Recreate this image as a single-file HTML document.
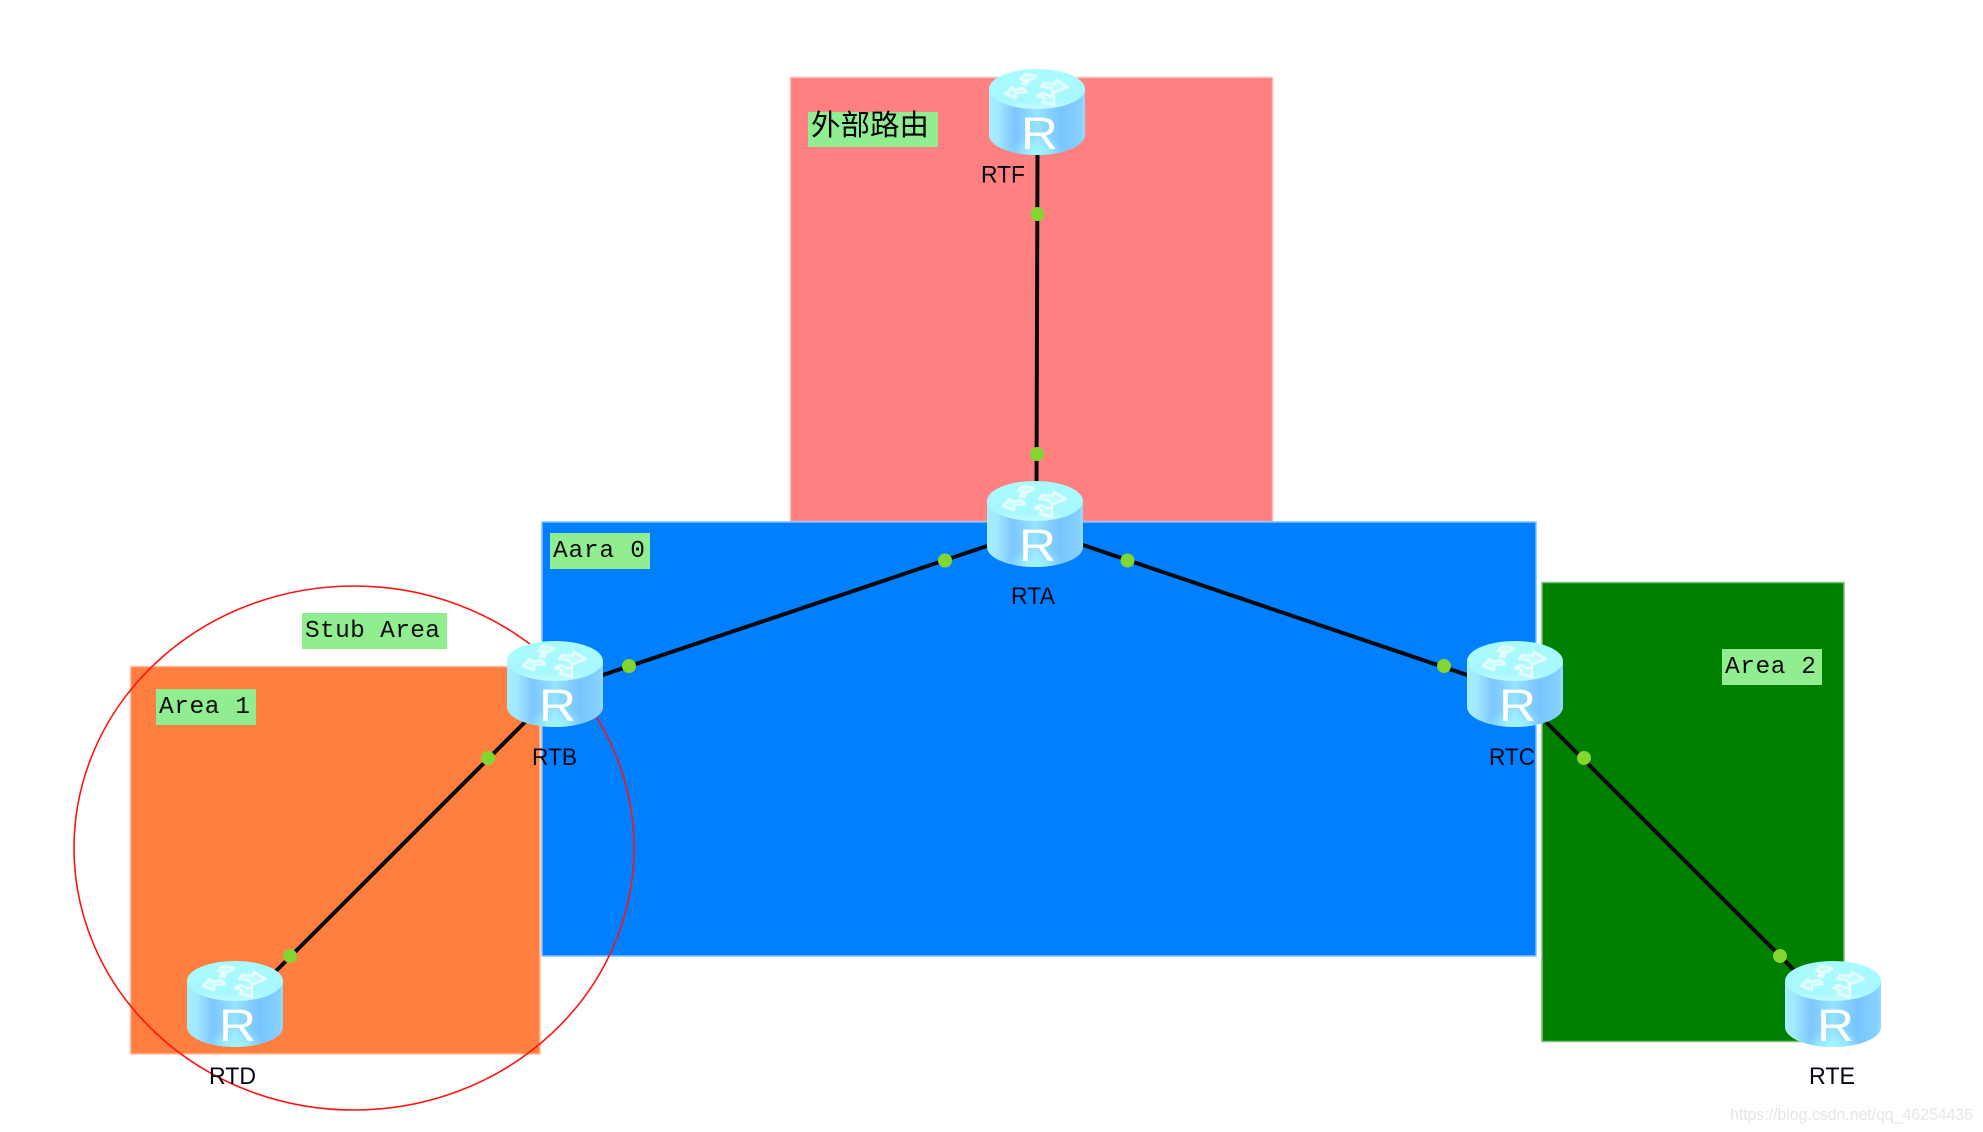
<!DOCTYPE html>
<html>
<head>
<meta charset="utf-8">
<title>OSPF Stub Area</title>
<style>
html,body{margin:0;padding:0;background:#fff;width:1983px;height:1132px;overflow:hidden}
svg{display:block}
.lb{font-family:"Liberation Mono",monospace;font-size:24.5px;fill:#0a0a0a}
.n{font-family:"Liberation Sans",sans-serif;font-size:24px;fill:#050514}
.r{font-family:"Liberation Sans",sans-serif;font-size:45px;fill:#fff}
</style>
</head>
<body>
<svg width="1983" height="1132" viewBox="0 0 1983 1132" xmlns="http://www.w3.org/2000/svg">
<defs>
<linearGradient id="b" x1="0" x2="1" y1="0" y2="0">
<stop offset="0" stop-color="#a6efff"/>
<stop offset=".1" stop-color="#a0e8ff"/>
<stop offset=".27" stop-color="#7cc6ff"/>
<stop offset=".5" stop-color="#96e2ff"/>
<stop offset=".75" stop-color="#78c4ff"/>
<stop offset=".95" stop-color="#86d0ff"/>
<stop offset="1" stop-color="#94dcff"/>
</linearGradient>
<linearGradient id="t" x1="0" x2="0" y1="0" y2="1">
<stop offset="0" stop-color="#a8fbff"/>
<stop offset=".8" stop-color="#a8f8ff"/>
<stop offset="1" stop-color="#c4fbff"/>
</linearGradient>
<radialGradient id="g" cx=".5" cy="1" r=".3">
<stop offset="0" stop-color="#a4f8ff"/>
<stop offset="1" stop-color="#a4f8ff" stop-opacity="0"/>
</radialGradient>
<filter id="soft" x="-5%" y="-5%" width="110%" height="110%"><feGaussianBlur stdDeviation=".45"/></filter>
<g id="router">
<path d="M0 20 V66 A48 20 0 0 0 96 66 V20 Z" fill="url(#b)"/>
<path d="M0 20 V66 A48 20 0 0 0 96 66 V20 Z" fill="url(#g)"/>
<ellipse cx="48" cy="20" rx="48" ry="20" fill="url(#t)"/>
<g fill="#d8fdff" fill-opacity=".45" stroke="#eefeff" stroke-width="2.2" stroke-linejoin="round" filter="url(#soft)">
<path d="M33 15 L37 11 L31 10 L36 5 L47 7 L44 10 L39 11 L38 16 Z"/>
<path d="M16 25 L23 18 L25 21 L34 19 L38 23 L27 24 L27 29 Z"/>
<path d="M79 18 L67 11 L66 15 L55 14 L52 18 L62 19 L64 24 Z"/>
<path d="M65 36 L53 33 L55 29 L48 27 L53 24 L61 27 L65 26 Z"/>
</g>
<text class="r" x="32" y="80" textLength="37" lengthAdjust="spacingAndGlyphs">R</text>
</g>
</defs>

<rect width="1983" height="1132" fill="#fff"/>

<!-- areas -->
<rect x="790.5" y="77.5" width="482" height="444" fill="#ff8080" stroke="#ffb8b8" stroke-width="1.5"/>
<rect x="130.5" y="666.5" width="409.5" height="387.5" fill="#ff7f40" stroke="#ffc0a0" stroke-width="1.5"/>
<rect x="542" y="522" width="994" height="434" fill="#0080ff" stroke="#80c0ff" stroke-width="1.5"/>
<rect x="1542" y="582.5" width="302" height="459" fill="#008000" stroke="#80c080" stroke-width="1.5"/>

<!-- circle -->
<ellipse cx="354" cy="848" rx="280" ry="262" fill="none" stroke="#ff1414" stroke-width="1.6"/>

<!-- connectors -->
<g stroke="#0a0a0a" stroke-width="4" fill="none">
<line x1="1037.5" y1="150" x2="1036.5" y2="490"/>
<line x1="600" y1="676" x2="990" y2="545"/>
<line x1="1080" y1="544" x2="1470" y2="676"/>
<line x1="528" y1="719" x2="274" y2="973"/>
<line x1="1543" y1="719" x2="1796" y2="972"/>
</g>
<g fill="#82d62f">
<circle cx="1037.5" cy="214" r="7"/>
<circle cx="1037" cy="454" r="7"/>
<circle cx="945" cy="560.5" r="7"/>
<circle cx="629" cy="666" r="7"/>
<circle cx="1127.5" cy="560.5" r="7"/>
<circle cx="1444" cy="666" r="7"/>
<circle cx="488" cy="758" r="7"/>
<circle cx="290" cy="956" r="7"/>
<circle cx="1584" cy="758" r="7"/>
<circle cx="1780" cy="956" r="7"/>
</g>

<!-- routers -->
<use href="#router" x="989" y="69"/>
<use href="#router" x="987" y="481"/>
<use href="#router" x="507" y="641"/>
<use href="#router" x="1467" y="641"/>
<use href="#router" x="187" y="961"/>
<use href="#router" x="1785" y="961"/>

<!-- router names -->
<text class="n" x="981" y="182.5" textLength="44" lengthAdjust="spacingAndGlyphs">RTF</text>
<text class="n" x="1011" y="604" textLength="44" lengthAdjust="spacingAndGlyphs">RTA</text>
<text class="n" x="532" y="765" textLength="45" lengthAdjust="spacingAndGlyphs">RTB</text>
<text class="n" x="1489" y="765" textLength="46" lengthAdjust="spacingAndGlyphs">RTC</text>
<text class="n" x="209" y="1084" textLength="47" lengthAdjust="spacingAndGlyphs">RTD</text>
<text class="n" x="1809" y="1084" textLength="46" lengthAdjust="spacingAndGlyphs">RTE</text>

<!-- label boxes -->
<rect x="808" y="112" width="130" height="35" fill="#90ee90"/>
<text x="811" y="135" textLength="118" lengthAdjust="spacingAndGlyphs" style="font-family:'Liberation Sans','Noto Sans CJK SC',sans-serif;font-size:29px;fill:#000">外部路由</text>

<rect x="550" y="533" width="100" height="36" fill="#90ee90"/>
<text class="lb" x="553" y="557" textLength="92" lengthAdjust="spacing">Aara 0</text>

<rect x="302" y="613" width="145" height="36" fill="#90ee90"/>
<text class="lb" x="305" y="637" textLength="135" lengthAdjust="spacing">Stub Area</text>

<rect x="156" y="689" width="100" height="36" fill="#90ee90"/>
<text class="lb" x="159" y="713" textLength="91" lengthAdjust="spacing">Area 1</text>

<rect x="1722" y="649" width="100" height="36" fill="#90ee90"/>
<text class="lb" x="1725" y="673" textLength="91" lengthAdjust="spacing">Area 2</text>

<!-- watermark -->
<text x="1730" y="1120" textLength="243" lengthAdjust="spacingAndGlyphs" style="font-family:'Liberation Sans',sans-serif;font-size:17px;fill:#e6e6e6">https://blog.csdn.net/qq_46254436</text>
</svg>
</body>
</html>
